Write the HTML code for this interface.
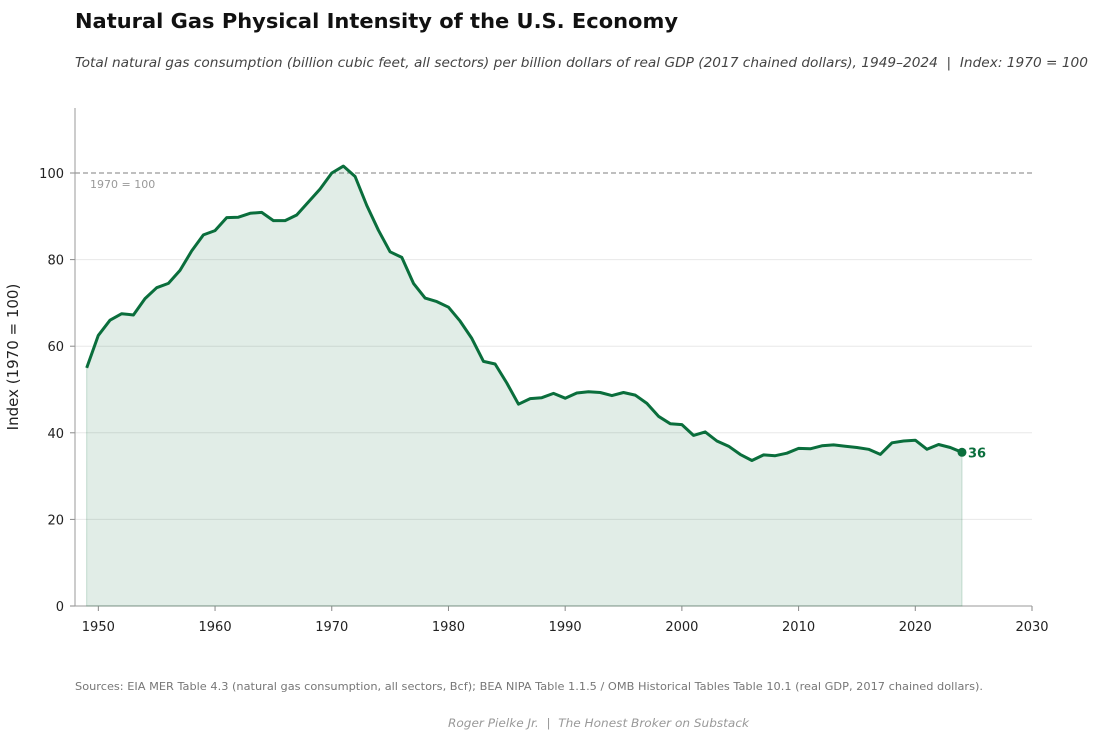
<!DOCTYPE html>
<html><head><meta charset="utf-8"><style>
body{margin:0;background:#fff;font-family:"Liberation Sans","DejaVu Sans",sans-serif;}
svg text{font-family:"DejaVu Sans","Liberation Sans",sans-serif;white-space:pre;}
</style></head><body>
<svg width="1100" height="742" viewBox="0 0 1100 742" xmlns="http://www.w3.org/2000/svg">
<text x="75" y="28" font-size="20" font-weight="bold" fill="#111" textLength="603" lengthAdjust="spacingAndGlyphs">Natural Gas Physical Intensity of the U.S. Economy</text>
<text x="75" y="67" font-size="13" font-style="italic" fill="#444" textLength="1013" lengthAdjust="spacingAndGlyphs">Total natural gas consumption (billion cubic feet, all sectors) per billion dollars of real GDP (2017 chained dollars), 1949–2024  |  Index: 1970 = 100</text>
<g id="grid"></g>
<g id="axes"></g>
<g id="series"></g>
<text x="18" y="357" font-size="15" fill="#222" transform="rotate(-90 18 357)" text-anchor="middle">Index (1970 = 100)</text>
<text x="75" y="690" font-size="11" fill="#777" textLength="908" lengthAdjust="spacingAndGlyphs">Sources: EIA MER Table 4.3 (natural gas consumption, all sectors, Bcf); BEA NIPA Table 1.1.5 / OMB Historical Tables Table 10.1 (real GDP, 2017 chained dollars).</text>
<text x="448" y="727" font-size="11.5" font-style="italic" fill="#999" textLength="301" lengthAdjust="spacingAndGlyphs">Roger Pielke Jr.  |  The Honest Broker on Substack</text>
</svg>
<script>
const years=[];for(let y=1949;y<=2024;y++)years.push(y);
const values=[55,62.5,66,67.5,67.2,71,73.5,74.5,77.5,82,85.7,86.7,89.7,89.8,90.7,90.9,89,89,90.3,93.3,96.3,100,101.6,99.2,92.5,86.8,81.8,80.5,74.5,71.1,70.3,69,65.8,61.8,56.5,55.9,51.5,46.6,47.9,48.1,49.1,48,49.2,49.5,49.3,48.6,49.3,48.7,46.8,43.8,42.1,41.9,39.4,40.2,38.1,36.9,35,33.6,34.9,34.7,35.3,36.4,36.3,37,37.2,36.9,36.6,36.2,35,37.7,38.1,38.3,36.2,37.3,36.6,35.5];
const xTicks=[1950,1960,1970,1980,1990,2000,2010,2020,2030];
const yTicks=[0,20,40,60,80,100];
const NS="http://www.w3.org/2000/svg";
const X=v=>75+(v-1948)*(1032-75)/82;
const Y=v=>606-v*4.33;
function mk(t,a,p,txt){const e=document.createElementNS(NS,t);for(const k in a)e.setAttribute(k,a[k]);if(txt!=null)e.textContent=txt;p.appendChild(e);return e;}
const grid=document.getElementById('grid'),axes=document.getElementById('axes'),ser=document.getElementById('series');
yTicks.forEach(v=>{
 if(v>0&&v<100){const g=mk('line',{x1:75,x2:1032,y1:Y(v),y2:Y(v),stroke:'#e8e8e8','stroke-width':1},grid);
 
 }
 mk('line',{x1:70,x2:75,y1:Y(v),y2:Y(v),stroke:'#888'},axes);
 const t=mk('text',{x:64,y:Y(v)+5,'font-size':13,'text-anchor':'end',fill:'#222'},axes,v);
 
 
});
xTicks.forEach(v=>{
 mk('line',{x1:X(v),x2:X(v),y1:606,y2:611,stroke:'#888'},axes);
 const t=mk('text',{x:X(v),y:631,'font-size':13,'text-anchor':'middle',fill:'#222'},axes,v);
 
 
});
const ref=mk('line',{x1:75,x2:1032,y1:Y(100),y2:Y(100),stroke:'#999','stroke-dasharray':'5,3','stroke-width':1.2},grid);


const rl=mk('text',{x:90,y:Y(100)+15,'font-size':11,fill:'#999'},grid,'1970 = 100');


const al=mk('line',{x1:75,x2:75,y1:108,y2:606,stroke:'#999'},axes);


const bl=mk('line',{x1:75,x2:1032,y1:606,y2:606,stroke:'#999'},axes);


const pts=years.map((y,i)=>X(y).toFixed(1)+','+Y(values[i]).toFixed(1));
const area=mk('path',{d:'M'+X(years[0])+',606L'+pts.join('L')+'L'+X(years[years.length-1])+',606Z',fill:'#0a6e3c','fill-opacity':0.12,stroke:'#0a6e3c','stroke-opacity':0.2},ser);


const line=mk('path',{d:'M'+pts.join('L'),fill:'none',stroke:'#0a6e3c','stroke-width':3,'stroke-linejoin':'round'},ser);


const n=years.length-1;
const dot=mk('circle',{cx:X(years[n]),cy:Y(values[n]),r:4.5,fill:'#0a6e3c'},ser);


const lab=mk('text',{x:X(years[n])+6,y:Y(values[n])+5,'font-size':13,'font-weight':'bold',fill:'#0a6e3c'},ser,Math.round(values[n]));


</script>
</body></html>
